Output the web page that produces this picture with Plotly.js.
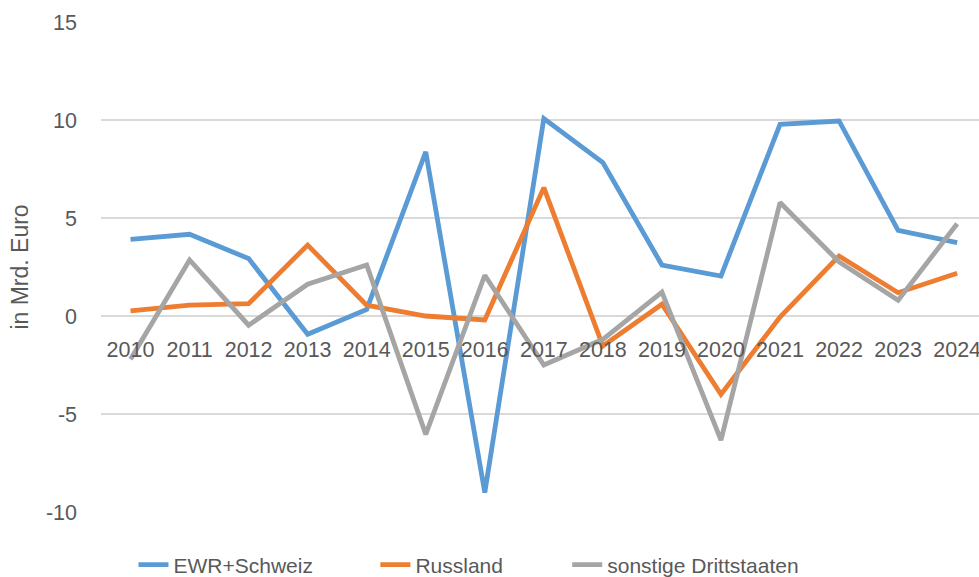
<!DOCTYPE html>
<html>
<head>
<meta charset="utf-8">
<script src="https://cdn.plot.ly/plotly-3.0.1.min.js"></script>
<style>html,body{margin:0;padding:0;background:#fff;}#chart{width:979px;height:577px;}</style>
</head>
<body>
<div id="chart"></div>
<script>
const years = ["2010","2011","2012","2013","2014","2015","2016","2017","2018","2019","2020","2021","2022","2023","2024"];
const ewrSchweiz = [3.91, 4.17, 2.93, -0.93, 0.34, 8.37, -9.01, 10.07, 7.83, 2.60, 2.04, 9.78, 9.95, 4.37, 3.74];
const russland = [0.26, 0.55, 0.63, 3.62, 0.55, 0.0, -0.20, 6.55, -1.53, 0.60, -4.0, -0.05, 3.06, 1.19, 2.18];
const sonstige = [-2.21, 2.86, -0.47, 1.62, 2.60, -6.04, 2.08, -2.50, -1.19, 1.22, -6.33, 5.79, 2.76, 0.80, 4.71];
const seriesNames = ["EWR+Schweiz", "Russland", "sonstige Drittstaaten"];
const yTicks = [-10, -5, 0, 5, 10, 15];

const colors = ["#5B9BD5", "#ED7D31", "#A5A5A5"];
const fontFam = "Liberation Sans, Arial, sans-serif";
const textCol = "#595959";
const legendIds = ["legend", "legend2", "legend3"];
const legendX = [0.037, 0.3125, 0.531];

const traces = [ewrSchweiz, russland, sonstige].map((vals, i) => ({
  type: "scatter",
  mode: "lines",
  x: years,
  y: vals,
  name: seriesNames[i],
  legend: legendIds[i],
  line: {color: colors[i], width: 4.8, shape: "linear"},
  hoverinfo: "x+y+name"
}));

const yMin = -10, yMax = 15;
const zeroPos = (0 - yMin) / (yMax - yMin);

const layout = {
  width: 979,
  height: 577,
  margin: {l: 100.5, r: 0, t: 22, b: 65, autoexpand: false},
  paper_bgcolor: "#ffffff",
  plot_bgcolor: "#ffffff",
  font: {family: fontFam, color: textCol, size: 21},
  showlegend: true,
  xaxis: {
    type: "category",
    range: [-0.5, 14.37],
    anchor: "free",
    position: zeroPos,
    showgrid: false,
    showline: false,
    zeroline: false,
    ticks: "",
    ticklabelstandoff: 18,
    tickfont: {family: fontFam, color: textCol, size: 21.5},
    automargin: false,
    fixedrange: true
  },
  yaxis: {
    range: [yMin, yMax],
    tickvals: yTicks,
    ticktext: yTicks.map(String),
    showgrid: true,
    gridcolor: "#D9D9D9",
    gridwidth: 1.5,
    zeroline: true,
    zerolinecolor: "#D9D9D9",
    zerolinewidth: 1.5,
    showline: false,
    ticks: "",
    ticklabelstandoff: 23,
    tickfont: {family: fontFam, color: textCol, size: 21.5},
    title: {text: "in Mrd. Euro", font: {family: fontFam, color: textCol, size: 23}, standoff: 10},
    automargin: false,
    fixedrange: true
  }
};
legendIds.forEach((id, i) => {
  layout[id] = {
    orientation: "h",
    x: legendX[i], xanchor: "left",
    y: -0.108, yanchor: "middle",
    font: {family: fontFam, color: textCol, size: 21},
    bgcolor: "rgba(0,0,0,0)"
  };
});

Plotly.newPlot("chart", traces, layout, {displayModeBar: false});
</script>
</body>
</html>
